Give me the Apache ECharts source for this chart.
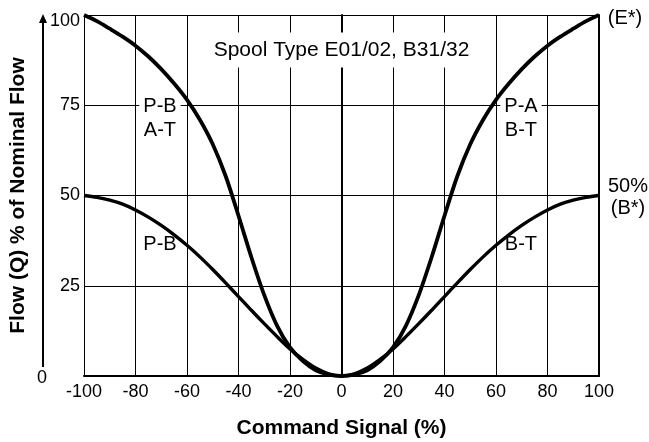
<!DOCTYPE html>
<html>
<head>
<meta charset="utf-8">
<script src="https://cdn.jsdelivr.net/npm/echarts@6/dist/echarts.min.js"></script>
<style>
  html, body { margin: 0; padding: 0; background: #fff; }
  #chart { width: 649px; height: 442px; }
</style>
</head>
<body>
<div id="chart"></div>
<script>
// Command signal (%) at which the flow curves are sampled
const commandSignal = [-100, -95, -90, -85, -80, -75, -70, -65, -60, -55, -50, -45, -40, -35, -30, -25, -20, -15, -10, -5, 0,
                       5, 10, 15, 20, 25, 30, 35, 40, 45, 50, 55, 60, 65, 70, 75, 80, 85, 90, 95, 100];
// Spool E01/02: P-B / A-T (negative side) and P-A / B-T (positive side)
const flowSpoolE = [100, 98.3, 96.2, 94.0, 91.5, 88.5, 85.0, 81.0, 76.5, 71.0, 64.2, 55.4, 44.4, 32.9, 22.4, 13.9, 7.9, 4.1, 1.6, 0.4, 0,
                    0.4, 1.6, 4.1, 7.9, 13.9, 22.4, 32.9, 44.4, 55.4, 64.2, 71.0, 76.5, 81.0, 85.0, 88.5, 91.5, 94.0, 96.2, 98.3, 100];
// Spool B31/32: P-B (negative side) and B-T (positive side), 50% of nominal
const flowSpoolB = [50, 49.5, 48.7, 47.6, 46.0, 44.0, 41.7, 39.1, 36.2, 33.0, 29.5, 25.8, 22.0, 18.2, 14.5, 10.9, 7.5, 4.6, 2.2, 0.6, 0,
                    0.6, 2.2, 4.6, 7.5, 10.9, 14.5, 18.2, 22.0, 25.8, 29.5, 33.0, 36.2, 39.1, 41.7, 44.0, 46.0, 47.6, 48.7, 49.5, 50];
// Axis ticks
const xTicks = [-100, -80, -60, -40, -20, 0, 20, 40, 60, 80, 100];
const yTicks = [0, 25, 50, 75, 100];

const FONT = '"Liberation Sans", Arial, Helvetica, sans-serif';
const chart = echarts.init(document.getElementById('chart'), null, { renderer: 'canvas' });

const pairs = (ys) => commandSignal.map((x, i) => [x, ys[i]]);

const option = {
  animation: false,
  backgroundColor: '#fff',
  grid: { left: 84, right: 50, top: 15, bottom: 66, containLabel: false },
  xAxis: {
    type: 'value',
    min: xTicks[0],
    max: xTicks[xTicks.length - 1],
    interval: xTicks[1] - xTicks[0],
    axisLine: { show: true, onZero: false, lineStyle: { color: '#000', width: 2 } },
    axisTick: { show: false },
    axisLabel: { color: '#000', fontSize: 18, fontFamily: FONT, margin: 7 },
    splitLine: { show: true, lineStyle: { color: '#000', width: 1 } }
  },
  yAxis: [
    {
      type: 'value',
      min: yTicks[0],
      max: yTicks[yTicks.length - 1],
      interval: yTicks[1] - yTicks[0],
      axisLine: { show: true, lineStyle: { color: '#000', width: 2 } },
      axisTick: { show: false },
      axisLabel: {
        color: '#000', fontSize: 18, fontFamily: FONT, margin: 4,
        formatter: (v) => (v === 0 ? '' : (v === 100 ? '{top|' + v + '}' : String(v))),
        rich: { top: { fontSize: 18, fontFamily: FONT, color: '#000', padding: [12, 0, 0, 0] } }
      },
      splitLine: { show: true, lineStyle: { color: '#000', width: 1 } }
    },
    {
      type: 'value',
      position: 'right',
      min: yTicks[0],
      max: yTicks[yTicks.length - 1],
      interval: yTicks[1] - yTicks[0],
      axisLine: { show: true, lineStyle: { color: '#000', width: 2 } },
      axisTick: { show: false },
      axisLabel: { show: false },
      splitLine: { show: false }
    }
  ],
  series: [
    {
      name: 'E01/02',
      type: 'line',
      data: pairs(flowSpoolE),
      smooth: 0.3,
      showSymbol: false,
      lineStyle: { color: '#000', width: 3.8 },
      z: 3
    },
    {
      name: 'B31/32',
      type: 'line',
      data: pairs(flowSpoolB),
      smooth: 0.3,
      showSymbol: false,
      lineStyle: { color: '#000', width: 3.4 },
      z: 3
    }
  ]
};

chart.setOption(option);

const px = (x, y) => chart.convertToPixel({ gridIndex: 0 }, [x, y]);
const topLeft = px(-100, 100);
const bottomLeft = px(-100, 0);
const topRight = px(100, 100);
const mid = px(0, 50);

function label(text, pos, opts) {
  return {
    type: 'text',
    z: 1,
    style: Object.assign({
      text: text,
      x: pos[0],
      y: pos[1],
      fill: '#000',
      font: '20px ' + FONT,
      align: 'center',
      verticalAlign: 'middle'
    }, opts || {})
  };
}

const arrowX = topLeft[0] - 41;
const arrowBottom = px(-100, 2.5)[1];

chart.setOption({
  graphic: [
    // vertical flow arrow at the left
    {
      type: 'line', z: 1,
      shape: { x1: arrowX, y1: arrowBottom, x2: arrowX, y2: topLeft[1] + 6 },
      style: { stroke: '#000', lineWidth: 2 }
    },
    {
      type: 'polygon', z: 1,
      shape: { points: [[arrowX, topLeft[1] - 1], [arrowX - 4, topLeft[1] + 8], [arrowX + 4, topLeft[1] + 8]] },
      style: { fill: '#000' }
    },
    label('0', [arrowX - 1, bottomLeft[1] + 2], { font: '18px ' + FONT }),
    // titles
    label('Command Signal (%)', [mid[0], 428], { font: 'bold 21px ' + FONT }),
    {
      type: 'text', z: 1,
      x: 18, y: mid[1],
      rotation: Math.PI / 2,
      style: {
        text: 'Flow (Q) % of Nominal Flow',
        fill: '#000', font: 'bold 21px ' + FONT,
        align: 'center', verticalAlign: 'middle'
      }
    },
    // curve annotations
    label('Spool Type E01/02, B31/32', px(0, 90.3), { font: '21px ' + FONT, backgroundColor: '#fff', padding: [7, 6] }),
    label('P-B\nA-T', px(-70.5, 71.2), { lineHeight: 24, backgroundColor: '#fff', padding: [2, 4] }),
    label('P-A\nB-T', px(69.7, 71.2), { lineHeight: 24, backgroundColor: '#fff', padding: [2, 4] }),
    label('P-B', px(-70.5, 36.3), { backgroundColor: '#fff', padding: [2, 4] }),
    label('B-T', px(69.7, 36.3), { backgroundColor: '#fff', padding: [2, 4] }),
    // end-point notes to the right of the plot
    label('(E*)', [topRight[0] + 26, topRight[1] + 3]),
    label('50%', [topRight[0] + 29, px(100, 52.5)[1]]),
    label('(B*)', [topRight[0] + 29, px(100, 46.3)[1]])
  ]
});
</script>
</body>
</html>
